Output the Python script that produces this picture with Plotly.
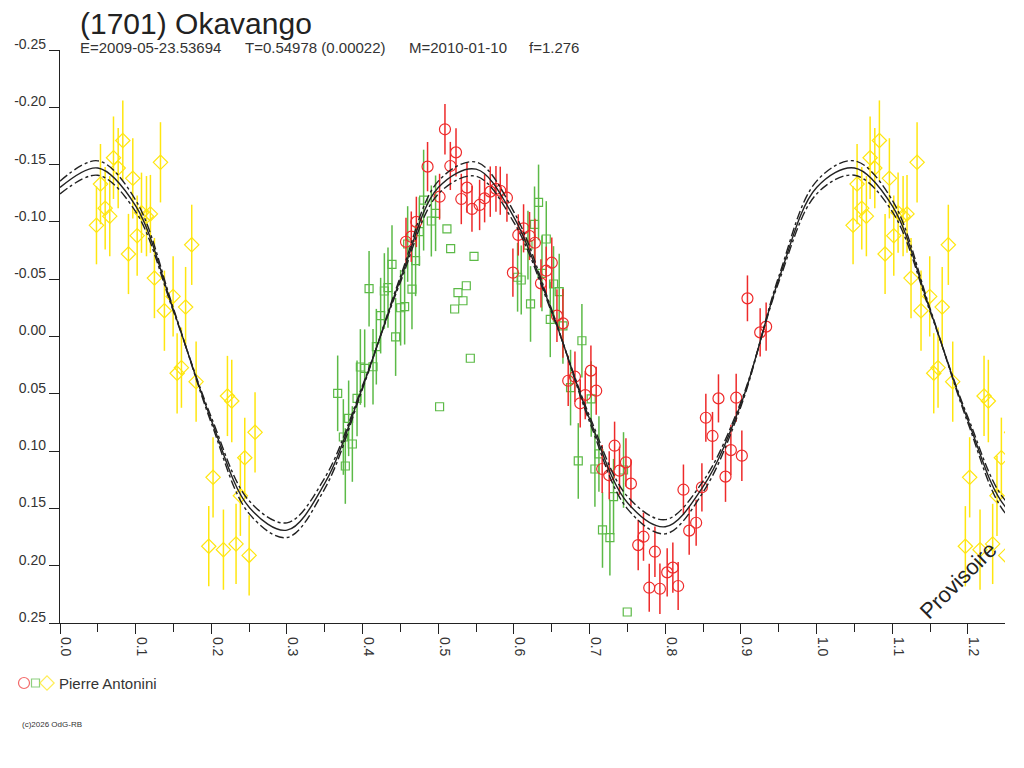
"""
Lightcurve of (1701) Okavango folded on the rotation period.
Points are read off the original plot; the phase window runs 0..1.25,
so the first quarter of the period is shown twice.
"""

import plotly.graph_objects as go

# the page puts the plot 8px in from the window corner
OFF = 8
W, H = 1024 - OFF, 768 - OFF
# plot area in window pixels (left, right, top, bottom)
PX_L, PX_R, PX_T, PX_B = 60, 1005, 50, 623

FONT = "Liberation Sans, Arial, sans-serif"
RED, GREEN, YELLOW = "#ee2a2a", "#5cba47", "#ffe60f"

# --- observing session 1 (yellow diamonds) ---
yellow_phase = [0.0707, 0.0769, 0.0830, 0.1328, 0.0962, 0.0535, 0.0597, 0.0658,
                0.0482, 0.1077, 0.1143, 0.1195, 0.1020, 0.0905, 0.1741, 0.1248,
                0.1495, 0.1380, 0.1660, 0.1548, 0.1605, 0.1799, 0.2213, 0.2270,
                0.2578, 0.2442, 0.2023, 0.2384, 0.1966, 0.2160, 0.2327, 0.2500]
yellow_mag = [-0.156, -0.147, -0.171, -0.152, -0.138, -0.133, -0.112, -0.105,
              -0.097, -0.108, -0.105, -0.107, -0.088, -0.072, -0.080, -0.051,
              -0.035, -0.0225, -0.0257, 0.0321, 0.0272, 0.0394, 0.0519, 0.0563,
              0.0836, 0.1058, 0.1229, 0.139, 0.183, 0.186, 0.181, 0.191]
yellow_err = [0.036, 0.035, 0.035, 0.035, 0.035, 0.035, 0.036, 0.035,
              0.034, 0.035, 0.035, 0.034, 0.035, 0.035, 0.035, 0.035,
              0.035, 0.035, 0.035, 0.035, 0.035, 0.035, 0.035, 0.036,
              0.035, 0.035, 0.035, 0.035, 0.035, 0.035, 0.035, 0.035]

# --- session 2 (green squares), err 0 = no bar drawn ---
green_phase = [0.4806, 0.4964, 0.4908, 0.4749, 0.4595, 0.4700, 0.4388, 0.4085,
               0.4287, 0.4335, 0.4652, 0.4502, 0.4555, 0.4238, 0.4436, 0.4181,
               0.3970, 0.4027, 0.4137, 0.3670, 0.3926, 0.3815, 0.3745, 0.3771,
               0.3864, 0.6325, 0.6272, 0.6427, 0.6185, 0.6048, 0.6096, 0.6370,
               0.6523, 0.6598, 0.6219, 0.6480, 0.6647, 0.6898, 0.6748, 0.7021,
               0.6850, 0.7123, 0.7070, 0.7448, 0.7316, 0.7170, 0.7268,
               0.5114, 0.5163, 0.5472, 0.5370, 0.5260, 0.5326, 0.5216, 0.5423,
               0.5017, 0.7497]
green_mag = [-0.119, -0.1075, -0.1008, -0.0915, -0.0807, -0.0662, -0.063, -0.0417,
             -0.0397, -0.0426, -0.0414, -0.0251, -0.026, -0.0182, 0.0004, 0.0089,
             0.0266, 0.0278, 0.0264, 0.0496, 0.054, 0.0714, 0.0877, 0.113,
             0.0938, -0.117, -0.0979, -0.0851, -0.0798, -0.0517, -0.0493, -0.0551,
             -0.0458, -0.0391, -0.0284, -0.015, -0.0092, 0.0037, 0.0446, 0.0545,
             0.1086, 0.1025, 0.1156, 0.1165, 0.1398, 0.1688, 0.1755,
             -0.094, -0.0766, -0.070, -0.0443, -0.0382, -0.0312, -0.024, 0.019,
             0.0613, 0.2404]
green_err = [0.044, 0.033, 0.031, 0.030, 0.033, 0.031, 0.034, 0.033,
             0.033, 0.035, 0.035, 0.033, 0.033, 0.033, 0.034, 0.033,
             0.033, 0.034, 0.033, 0.033, 0.033, 0.033, 0.033, 0.033,
             0.033, 0.033, 0.033, 0.033, 0.030, 0.030, 0.030, 0.033,
             0.033, 0.033, 0.033, 0.033, 0.033, 0.032, 0.033, 0.033,
             0.033, 0.033, 0.033, 0.033, 0.033, 0.033, 0.033,
             0, 0, 0, 0, 0, 0, 0, 0,
             0, 0]

# --- session 3 (red circles) ---
red_phase = [0.5088, 0.5234, 0.4858, 0.5159, 0.5379, 0.5017, 0.5304, 0.5445,
             0.5546, 0.5612, 0.5687, 0.5762, 0.4710, 0.4573, 0.4643, 0.5819,
             0.5907, 0.6057, 0.6127, 0.6206, 0.6277, 0.5986, 0.6500, 0.6427,
             0.6357, 0.6568, 0.6647, 0.6717, 0.6806, 0.7017, 0.7087, 0.6942,
             0.6876, 0.8536, 0.7330, 0.7480, 0.7259, 0.7166, 0.7395, 0.7546,
             0.8240, 0.8484, 0.8408, 0.8316, 0.7712, 0.7642, 0.7863, 0.8100,
             0.8025, 0.8170, 0.7788, 0.7929, 0.9086, 0.9333, 0.9254, 0.8703,
             0.8937, 0.8624, 0.8867, 0.9012, 0.8796]
red_mag = [-0.1808, -0.1607, -0.1482, -0.1488, -0.1299, -0.122, -0.120, -0.1113,
           -0.1148, -0.1206, -0.1264, -0.1288, -0.100, -0.0827, -0.0871, -0.1272,
           -0.1211, -0.0886, -0.0944, -0.0877, -0.0818, -0.0557, -0.0644, -0.0574,
           -0.0464, -0.0182, -0.0115, 0.0386, 0.0351, 0.0298, 0.0473, 0.0511,
           0.0583, 0.0709, 0.0953, 0.1098, 0.1211, 0.1156, 0.1171, 0.1284,
           0.1337, 0.1316, 0.1625, 0.1694, 0.1747, 0.182, 0.1878, 0.2017,
           0.2058, 0.2177, 0.2192, 0.2201, -0.0333, -0.0086, -0.0036, 0.054,
           0.0534, 0.0868, 0.0991, 0.104, 0.1223]
red_err = [0.022, 0.021, 0.0215, 0.021, 0.022, 0.020, 0.022, 0.020,
           0.022, 0.021, 0.022, 0.020, 0.022, 0.021, 0.022, 0.021,
           0.021, 0.018, 0.021, 0.021, 0.021, 0.021, 0.022, 0.021,
           0.021, 0.023, 0.030, 0.022, 0.022, 0.022, 0.021, 0.021,
           0.021, 0.021, 0.021, 0.021, 0.021, 0.021, 0.021, 0.021,
           0.022, 0.021, 0.020, 0.021, 0.021, 0.022, 0.022, 0.022,
           0.021, 0.021, 0.021, 0.022, 0.020, 0.021, 0.021, 0.021,
           0.021, 0.021, 0.022, 0.022, 0.022]

# --- fitted lightcurve over one period, with its +/- envelope ---
fit_phase = [0.00, 0.05, 0.10, 0.15, 0.20, 0.25, 0.30, 0.35, 0.40, 0.45, 0.50,
             0.55, 0.60, 0.65, 0.70, 0.75, 0.80, 0.85, 0.90, 0.95, 1.00]
fit_mag = [-0.130, -0.147, -0.114, -0.023, 0.073, 0.149, 0.169, 0.128, 0.044, -0.050,
           -0.130, -0.146, -0.104, -0.022, 0.072, 0.145, 0.166, 0.131, 0.059, -0.050,
           -0.130]
fit_outer = [-0.1356, -0.1533, -0.1190, -0.0243, 0.0755, 0.1546, 0.1754, 0.1327,
             0.0454, -0.0524, -0.1356, -0.1522, -0.1086, -0.0233, 0.0745, 0.1504,
             0.1722, 0.1358, 0.0610, -0.0524, -0.1356]
fit_inner = [-0.1244, -0.1407, -0.1090, -0.0217, 0.0705, 0.1434, 0.1626, 0.1233,
             0.0426, -0.0476, -0.1244, -0.1398, -0.0994, -0.0207, 0.0695, 0.1396,
             0.1598, 0.1262, 0.0570, -0.0476, -0.1244]

y_ticks = [-0.25, -0.20, -0.15, -0.10, -0.05, 0.00, 0.05, 0.10, 0.15, 0.20, 0.25]
x_ticks = [0.0, 0.1, 0.2, 0.3, 0.4, 0.5, 0.6, 0.7, 0.8, 0.9, 1.0, 1.1, 1.2]


def wrap(xs, ys, upto=1.3):
    """Repeat the start of the period after phase 1 (phase-folded plot)."""
    ex = [x + 1 for x in xs if x + 1 <= upto]
    ey = [y for x, y in zip(xs, ys) if x + 1 <= upto]
    return list(xs) + ex, list(ys) + ey


def wrap3(xs, ys, es, upto=1.3):
    x2, y2 = wrap(xs, ys, upto)
    e2 = list(es) + [e for x, e in zip(xs, es) if x + 1 <= upto]
    return x2, y2, e2


def data_trace(xs, ys, es, colour, symbol, size):
    return go.Scatter(
        x=xs, y=ys, mode="markers",
        marker=dict(symbol=symbol, size=size, color=colour,
                    line=dict(width=1.2, color=colour)),
        error_y=dict(type="data", array=es, visible=True, color=colour,
                     thickness=1.5, width=0),
        hoverinfo="x+y",
    )


def px_x(px):
    return (px - OFF) / W


def px_y(py):
    return 1 - (py - OFF) / H


fig = go.Figure()

yx, yy, ye = wrap3(yellow_phase, yellow_mag, yellow_err)
fig.add_trace(data_trace(yx, yy, ye, YELLOW, "diamond-open", 11))
fig.add_trace(data_trace(green_phase, green_mag, green_err, GREEN, "square-open", 8))
fig.add_trace(data_trace(red_phase, red_mag, red_err, RED, "circle-open", 11))

for ys, dash in [(fit_outer, "dashdot"), (fit_inner, "dashdot"), (fit_mag, "solid")]:
    fx, fy = wrap(fit_phase[:-1], ys[:-1], upto=1.35)
    fig.add_trace(go.Scatter(
        x=fx, y=fy, mode="lines",
        line=dict(color="#222222", width=1.4, dash=dash, shape="spline", smoothing=1),
        hoverinfo="skip",
    ))

# legend symbols live on a hidden pixel-space overlay
fig.add_trace(go.Scatter(
    x=[24 - OFF, 35.5 - OFF, 47 - OFF], y=[683 - OFF] * 3, xaxis="x2", yaxis="y2",
    mode="markers",
    marker=dict(symbol=["circle-open", "square-open", "diamond-open"],
                size=[11, 8, 11], color=[RED, GREEN, YELLOW], line=dict(width=1.2)),
    hoverinfo="skip",
))

texts = [
    ("(1701) Okavango", 78, 23, 30),
    ("E=2009-05-23.53694", 78, 48, 15),
    ("T=0.54978 (0.00022)", 243, 48, 15),
    ("M=2010-01-10", 407, 48, 15),
    ("f=1.276", 527, 48, 15),
    ("Pierre Antonini", 57, 683, 15),
    ("(c)2026 OdG-RB", 20, 724, 8),
]
for txt, x, y, size in texts:
    fig.add_annotation(text=txt, x=px_x(x), y=px_y(y), xref="paper", yref="paper",
                       xanchor="left", yanchor="middle", showarrow=False,
                       font=dict(size=size, color="#222" if size > 20 else "#333"))
fig.add_annotation(text="Provisoire", x=px_x(958), y=px_y(580), xref="paper", yref="paper",
                   xanchor="center", yanchor="middle", textangle=-45, showarrow=False,
                   font=dict(size=22, color="#222"))

fig.update_layout(
    width=W, height=H,
    margin=dict(l=0, r=0, t=0, b=0),
    paper_bgcolor="white", plot_bgcolor="rgba(0,0,0,0)",
    showlegend=False,
    font=dict(family=FONT, color="#333"),
    xaxis=dict(
        domain=[px_x(PX_L), px_x(PX_R)], range=[0, 1.249], anchor="y",
        showgrid=False, zeroline=False, showline=True, linecolor="#222", linewidth=1.3,
        ticks="outside", ticklen=10, tickwidth=1.3, tickcolor="#222",
        tickvals=x_ticks, ticktext=[f"{v:.1f}" for v in x_ticks],
        tickangle=90, ticklabelshift=6, tickfont=dict(size=14, color="#333"),
        minor=dict(dtick=0.05, ticks="outside", ticklen=8, tickwidth=1.3, tickcolor="#222"),
        automargin=False,
    ),
    yaxis=dict(
        domain=[px_y(PX_B), px_y(PX_T)], range=[0.25, -0.25], anchor="x",
        showgrid=False, zeroline=False, showline=True, linecolor="#222", linewidth=1.3,
        ticks="outside", ticklen=10, tickwidth=1.3, tickcolor="#222",
        tickvals=y_ticks, ticktext=[f"{v:.2f}" for v in y_ticks],
        ticklabelshift=6, tickfont=dict(size=14, color="#333"),
        automargin=False,
    ),
    xaxis2=dict(domain=[0, 1], range=[0, W], visible=False, anchor="y2"),
    yaxis2=dict(domain=[0, 1], range=[H, 0], visible=False, anchor="x2"),
)

fig.write_html("out.html")
